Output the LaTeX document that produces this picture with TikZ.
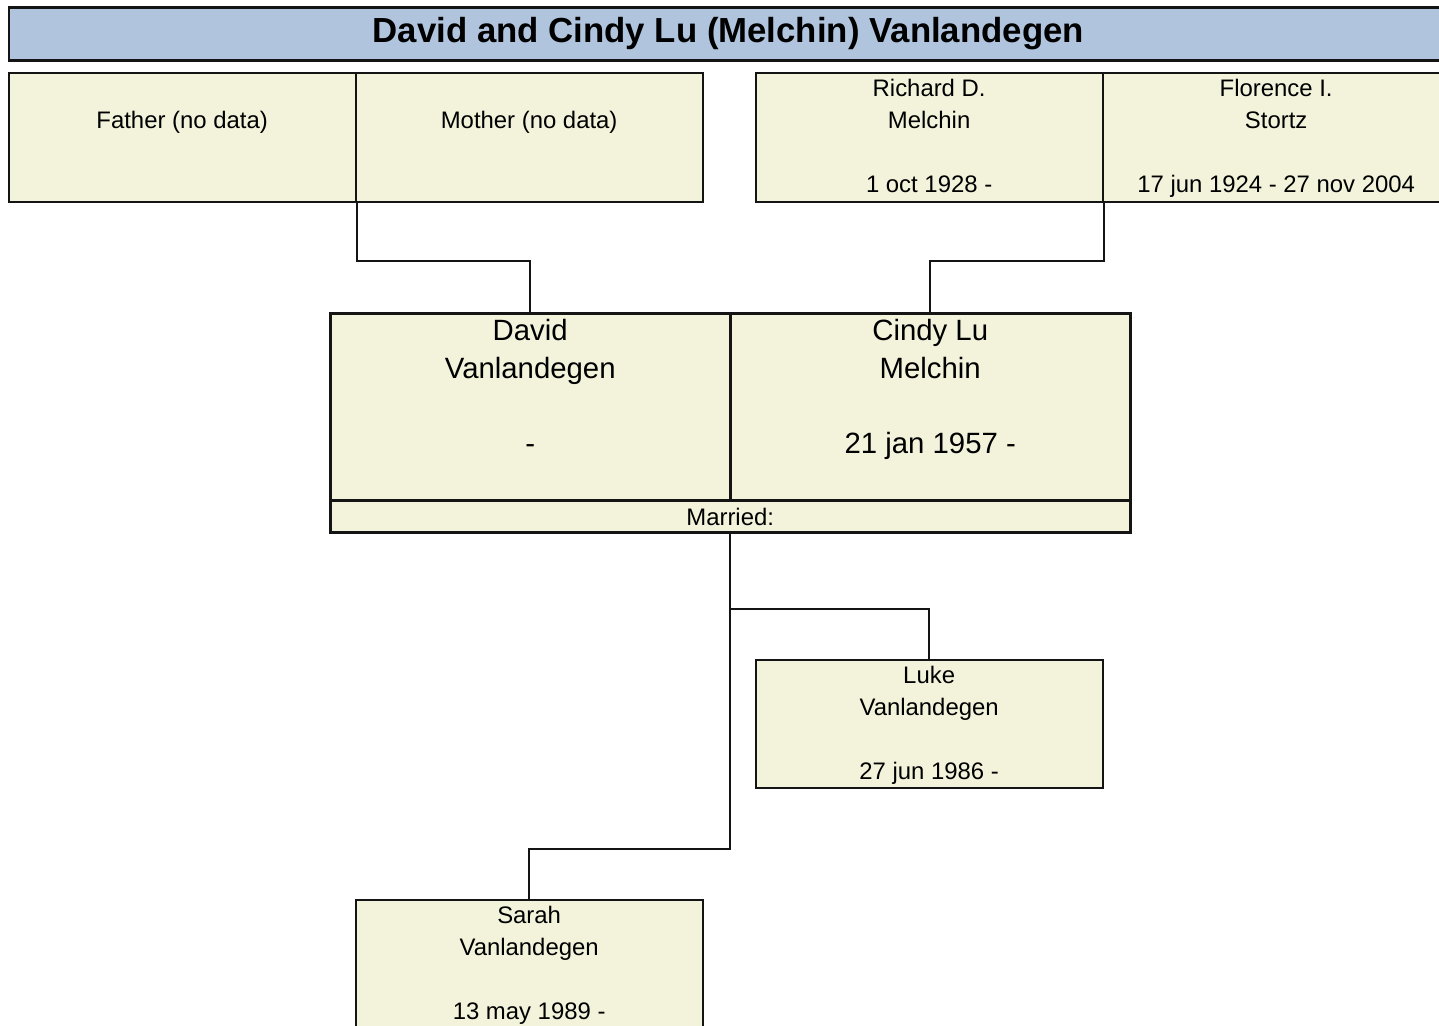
\documentclass[tikz,border=0pt]{standalone}
\usepackage{fontspec}
\setmainfont{Liberation Sans}
\usetikzlibrary{positioning,calc}
\definecolor{boxfill}{RGB}{243,243,220}
\definecolor{titlefill}{RGB}{176,196,222}
\definecolor{linedark}{RGB}{20,20,20}
\tikzset{
  pbox/.style={draw=linedark,fill=boxfill,line width=1.1pt,anchor=north west,
    inner sep=0pt,minimum width=6.94cm,minimum height=2.58cm},
  cbox/.style={pbox,line width=1.8pt,minimum width=8cm,minimum height=3.74cm},
  ptext/.style={align=center,inner sep=0pt,font=\fontsize{13.6}{18.1}\selectfont},
  ctext/.style={ptext,font=\fontsize{16.7}{21.3}\selectfont},
  conn/.style={draw=linedark,line width=1.1pt}
}
\begin{document}
\begin{tikzpicture}[x=0.02cm,y=-0.02cm]
\useasboundingbox (0,0) rectangle (1439,1025);
\clip (0,0) rectangle (1439,1025);
\begin{scope}[shift={(-1.3,-0.8)}]
% ---------------- title bar ----------------
\node[draw=linedark,fill=titlefill,line width=1.4pt,anchor=north west,inner sep=0pt,
  minimum width=28.78cm,minimum height=1.06cm,
  font=\fontsize{19.8}{24}\selectfont\bfseries] (title) at (9,7)
  {David and Cindy Lu (Melchin) Vanlandegen};
% ---------------- grandparents ----------------
\node[pbox] (father) at (9,73) {};
\node[pbox] (mother) at (356,73) {};
\node[pbox] (richard) at (756,73) {};
\node[pbox] (florence) at (1103,73) {};
\node[ptext,below=0.78cm of father.north] (fathertxt) {Father (no data)};
\node[ptext,below=0.78cm of mother.north] (mothertxt) {Mother (no data)};
\node[ptext,below=0.14cm of richard.north] (richardtxt)
  {Richard D.\\Melchin\\ \\1 oct 1928 -};
\node[ptext,below=0.14cm of florence.north] (florencetxt)
  {Florence I.\\Stortz\\ \\17 jun 1924 - 27 nov 2004};
% ---------------- couple ----------------
\node[cbox] (david) at (330,313) {};
\node[cbox] (cindy) at (730,313) {};
\node[cbox,minimum width=16cm,minimum height=0.64cm,font=\fontsize{13.6}{18.1}\selectfont]
  (married) at (330,500) {Married:};
\node[ctext,below=0.14cm of david.north] (davidtxt)
  {David\\Vanlandegen\\ \\-};
\node[ctext,below=0.14cm of cindy.north] (cindytxt)
  {Cindy Lu\\Melchin\\ \\21 jan 1957 -};
% ---------------- children ----------------
\node[pbox,minimum height=2.56cm] (luke) at (756,660) {};
\node[pbox] (sarah) at (356,900) {};
\node[ptext,below=0.14cm of luke.north] (luketxt)
  {Luke\\Vanlandegen\\ \\27 jun 1986 -};
\node[ptext,below=0.14cm of sarah.north] (sarahtxt)
  {Sarah\\Vanlandegen\\ \\13 may 1989 -};
% ---------------- connectors ----------------
\draw[conn] (father.south east) -- ++(0,58) -| (david.north);
\draw[conn] (richard.south east) -- ++(0,58) -| (cindy.north);
\draw[conn] (married.south) -- ++(0,315) -| (sarah.north);
\draw[conn] (married.south) ++(0,75) -| (luke.north);
\end{scope}
\end{tikzpicture}
\end{document}
